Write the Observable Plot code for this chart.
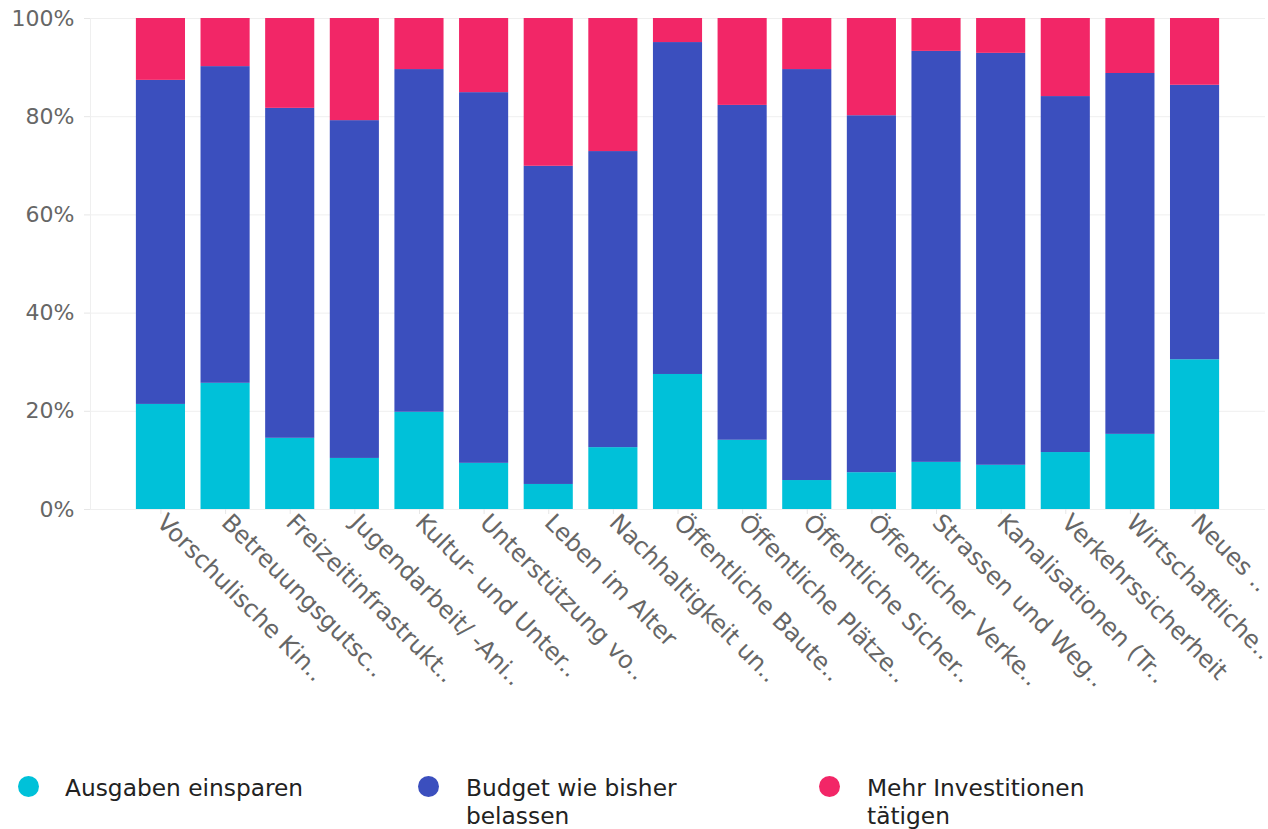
<!DOCTYPE html>
<html><head><meta charset="utf-8">
<script src="https://cdn.jsdelivr.net/npm/d3@7"></script>
<script src="https://cdn.jsdelivr.net/npm/@observablehq/plot@0.6"></script>
<style>
body{margin:0;background:#fff;font-family:"DejaVu Sans",sans-serif;}
#legend{position:relative;height:89px;width:1268px;}
.dot{position:absolute;width:21px;height:21px;border-radius:50%;top:36px;}
.lab{position:absolute;top:34px;font-size:23.3px;line-height:28px;color:#222;max-width:262px;}
</style></head><body><div id="chart"></div><div id="legend"></div>
<script>
const categories = ["Vorschulische Kin..","Betreuungsgutsc..","Freizeitinfrastrukt..","Jugendarbeit/ -Ani..","Kultur- und Unter..","Unterstützung vo..","Leben im Alter","Nachhaltigkeit un..","Öffentliche Baute..","Öffentliche Plätze..","Öffentliche Sicher..","Öffentlicher Verke..","Strassen und Weg..","Kanalisationen (Tr..","Verkehrssicherheit","Wirtschaftliche..","Neues .."];
const series = ["Ausgaben einsparen","Budget wie bisher belassen","Mehr Investitionen tätigen"];
const colors = ["#00C1D9","#3B4FBE","#F22667"];
const sparen   = [21.4,25.7,14.5,10.4,19.8, 9.4, 5.1,12.6,27.5,14.1, 5.9, 7.5, 9.6, 9.0,11.6,15.3,30.5];
const belassen = [66.0,64.5,67.2,68.8,69.8,75.5,64.8,60.3,67.6,68.2,83.7,72.7,83.7,83.9,72.5,73.5,55.9];
const mehr     = [12.6, 9.8,18.3,20.8,10.4,15.1,30.1,27.1, 4.9,17.7,10.4,19.8, 6.7, 7.1,15.9,11.2,13.6];
const yTicks = [0,20,40,60,80,100];

const values = [sparen, belassen, mehr];
const data = categories.flatMap((c,i)=>series.map((s,j)=>({cat:c, series:s, value:values[j][i]})));

const chart = Plot.plot({
  width:1268, height:740, marginTop:18, marginLeft:90, marginRight:3, marginBottom:231,
  style:{fontFamily:"DejaVu Sans", fontSize:"22px", background:"#fff"},
  x:{domain:categories, paddingInner:0.24, paddingOuter:0.71, round:false, label:null},
  y:{domain:[0,100], label:null},
  color:{domain:series, range:colors},
  marks:[
    Plot.gridY(yTicks, {stroke:"#efefef", strokeOpacity:1, strokeWidth:1}),
    Plot.frame({anchor:"left", stroke:"#efefef"}),
    Plot.barY(data, Plot.stackY({x:"cat", y:"value", fill:"series", order:series})),
    Plot.axisY(yTicks, {tickFormat:d=>d+"%", tickSize:6, tickPadding:10, stroke:"#e6e6e6", fill:"#666", label:null}),
    Plot.axisX({tickRotate:45, tickSize:5, tickPadding:4, fontSize:24, stroke:"#e6e6e6", fill:"#666", label:null})
  ]
});
document.getElementById("chart").append(chart);

const lg = document.getElementById("legend");
const dotX = [18, 418, 819], labX = [65, 466, 867];
series.forEach((s,i)=>{
  const d = document.createElement("div"); d.className="dot"; d.style.left=dotX[i]+"px"; d.style.background=colors[i]; lg.append(d);
  const t = document.createElement("div"); t.className="lab"; t.style.left=labX[i]+"px"; t.textContent=s; lg.append(t);
});
</script></body></html>
